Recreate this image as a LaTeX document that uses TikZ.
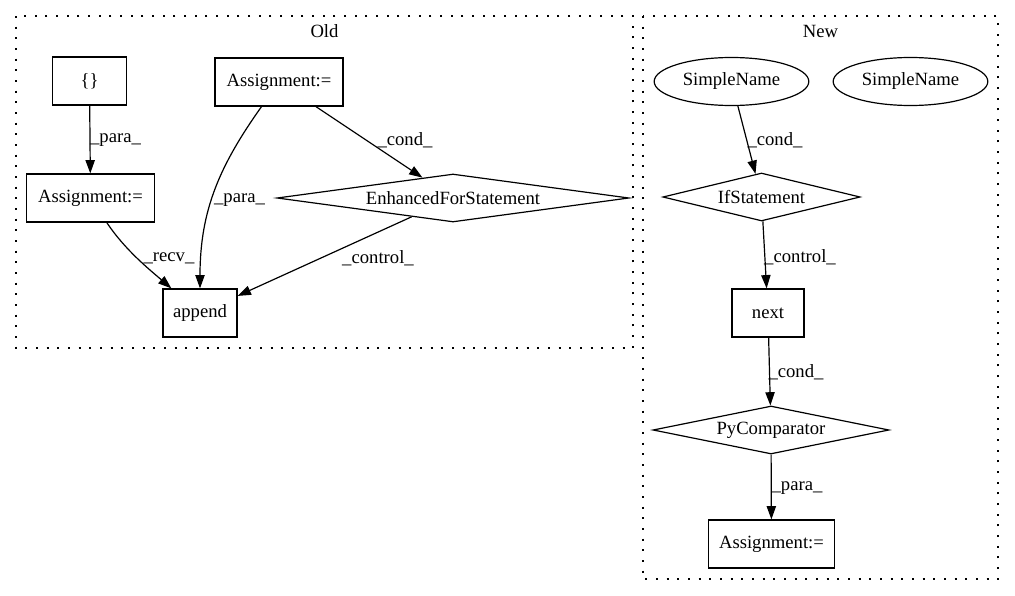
\documentclass[tikz,border=0pt]{standalone}
\usepackage{fontspec}
\setmainfont{Liberation Serif}
\usetikzlibrary{shapes.geometric,arrows.meta}
\tikzset{
  every node/.style={font=\fontsize{14}{16}\selectfont, inner sep=0pt},
  boxnode/.style={draw, line width=0.9pt, rectangle, minimum height=36pt},
  ellnode/.style={draw, line width=0.9pt, ellipse, minimum width=116pt, minimum height=36pt},
  dianode/.style={draw, line width=0.9pt, diamond, minimum height=36pt},
  arr/.style={line width=0.9pt, -{Triangle[length=10pt,width=7pt]}},
  lab/.style={font=\fontsize{14}{16}\selectfont},
  cluster/.style={line width=1pt, dash pattern=on 1.5pt off 6.5pt, line cap=butt}
}
\begin{document}
\begin{tikzpicture}[x=0.75pt,y=-0.75pt]
\useasboundingbox (0,0) rectangle (1015,596);
% clusters
\draw[cluster] (16,16) rectangle (633,348);
\draw[cluster] (643,16) rectangle (998,579);
\node (oldlab) at (324.5,31) {Old};
\node (newlab) at (820.5,31) {New};
% Old nodes
\node[boxnode, minimum width=55pt] (br) at (89.5,81) {\{\}};
\node[boxnode, minimum width=96pt] (at) at (279,82) {Assignment:=};
\node[boxnode, minimum width=96pt] (al) at (90.5,198) {Assignment:=};
\node[dianode, minimum width=264pt, shape aspect=7.3] (efs) at (453,198) {EnhancedForStatement};
\node[boxnode, minimum width=55.5pt] (app) at (200,313) {append};
% New nodes
\node[ellnode] (sn1) at (731.5,81.5) {SimpleName};
\node[ellnode] (sn2) at (910.5,81.5) {SimpleName};
\node[dianode, minimum width=148pt, shape aspect=4.1] (ifs) at (761.5,197) {IfStatement};
\node[boxnode, minimum width=54pt] (nxt) at (768,313) {next};
\node[dianode, minimum width=177pt, shape aspect=4.9] (pyc) at (771,430) {PyComparator};
\node[boxnode, minimum width=94pt] (asn) at (771.5,544) {Assignment:=};
% Old edges
\draw[arr] (br) -- (al);
\draw[arr] (at) .. controls (220,165) and (200,210) .. (app);
\draw[arr] (at) -- (efs);
\draw[arr] (al) .. controls (125,250) and (150,270) .. (app);
\draw[arr] (efs) -- (app);
% New edges
\draw[arr] (sn1) -- (ifs);
\draw[arr] (ifs) -- (nxt);
\draw[arr] (nxt) -- (pyc);
\draw[arr] (pyc) -- (asn);
% edge labels
\node[lab] (l1) at (115.5,140) {\_para\_};
\node[lab] (l2) at (239.5,200) {\_para\_};
\node[lab] (l3) at (405,140) {\_cond\_};
\node[lab] (l4) at (169,258) {\_recv\_};
\node[lab] (l5) at (378,258) {\_control\_};
\node[lab] (l6) at (775,140) {\_cond\_};
\node[lab] (l7) at (800,257) {\_control\_};
\node[lab] (l8) at (796,372) {\_cond\_};
\node[lab] (l9) at (797,488) {\_para\_};
\end{tikzpicture}
\end{document}
